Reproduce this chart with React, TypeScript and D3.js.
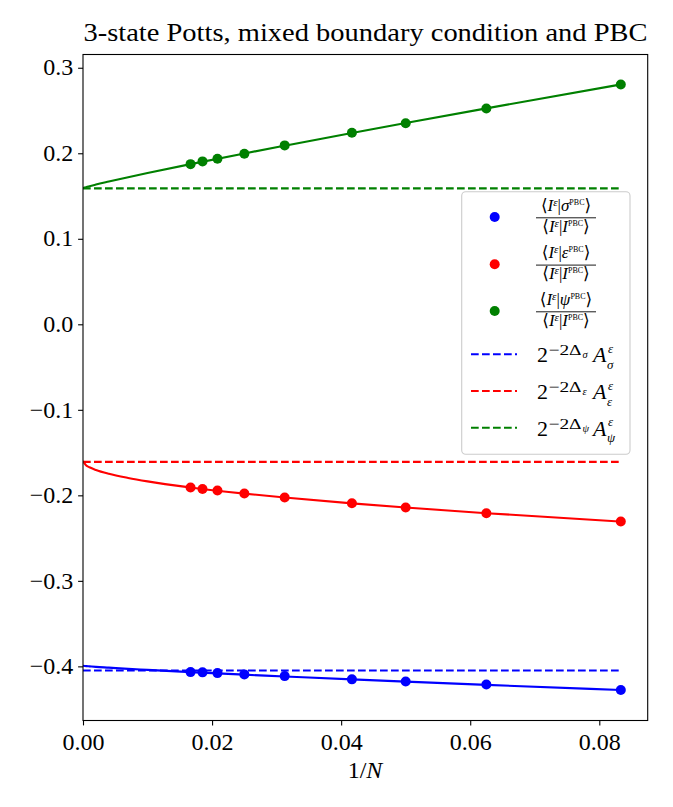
import { useEffect, useRef } from "react";
import * as d3 from "d3";

// system sizes N, plotted at 1/N
const sizes = [60, 54, 48, 40, 32, 24, 20, 16, 12];
const sigmaPts = [-0.4067, -0.407, -0.4079, -0.4094, -0.4114, -0.4152, -0.4176, -0.4211, -0.4277];
const epsPts = [-0.1908, -0.1925, -0.1944, -0.1979, -0.2025, -0.2092, -0.2142, -0.2209, -0.2306];
const psiPts = [0.1873, 0.1905, 0.1936, 0.1995, 0.2092, 0.224, 0.2352, 0.2524, 0.2805];

// fitted curves
const fitX = [0, 0.0005, 0.001, 0.002, 0.004, 0.007, 0.01, 1 / 60, 0.025, 1 / 32, 1 / 24, 0.05, 1 / 16, 1 / 12];
const sigmaFit = [-0.3993, -0.3997, -0.4, -0.4006, -0.4015, -0.4029, -0.4041, -0.4067, -0.4097, -0.4118, -0.4152, -0.4178, -0.4216, -0.4277];
const epsFit = [-0.16, -0.1651, -0.1672, -0.1703, -0.1748, -0.1797, -0.1837, -0.1908, -0.198, -0.2026, -0.2094, -0.2143, -0.2209, -0.2306];
const psiFit = [0.1593, 0.1604, 0.1615, 0.1634, 0.1669, 0.172, 0.1769, 0.1873, 0.1998, 0.2089, 0.2238, 0.2354, 0.2525, 0.2805];

// limits 2^{-2Δ} A
const sigmaLim = -0.4049;
const epsLim = -0.1609;
const psiLim = 0.1589;

const xTicks = [0, 0.02, 0.04, 0.06, 0.08];
const yTicks = [-0.4, -0.3, -0.2, -0.1, 0, 0.1, 0.2, 0.3];

const W = 673;
const H = 807;
const FONT = "'Liberation Serif', 'DejaVu Serif', serif";

function Frac({ cx, cy, sym }: { cx: number; cy: number; sym: string }) {
  const fs = 17;
  return (
    <g fontFamily={FONT}>
      <text x={cx} y={cy - 6.5} textAnchor="middle" fontSize={fs}>
        <tspan>⟨</tspan>
        <tspan fontStyle="italic">I</tspan>
        <tspan fontSize={11} fontStyle="italic" dy={-5}>ε</tspan>
        <tspan dy={5}>|</tspan>
        <tspan fontStyle="italic">{sym}</tspan>
        <tspan fontSize={8} dy={-6}>PBC</tspan>
        <tspan dy={6}>⟩</tspan>
      </text>
      <line x1={cx - 30} x2={cx + 30} y1={cy + 0.8} y2={cy + 0.8} stroke="#000" strokeWidth={0.9} />
      <text x={cx} y={cy + 14.7} textAnchor="middle" fontSize={fs}>
        <tspan>⟨</tspan>
        <tspan fontStyle="italic">I</tspan>
        <tspan fontSize={11} fontStyle="italic" dy={-5}>ε</tspan>
        <tspan dy={5}>|</tspan>
        <tspan fontStyle="italic">I</tspan>
        <tspan fontSize={8} dy={-6}>PBC</tspan>
        <tspan dy={6}>⟩</tspan>
      </text>
    </g>
  );
}

function LimLabel({ x, cy, sym }: { x: number; cy: number; sym: string }) {
  return (
    <g fontFamily={FONT}>
      <text x={x} y={cy + 8} fontSize={22}>2</text>
      <text
        x={x + 11.5}
        y={cy + 1}
        fontSize={15}
        textLength={33}
        lengthAdjust="spacingAndGlyphs"
      >
        −2Δ
      </text>
      <text x={x + 45.5} y={cy + 4} fontSize={10.5} fontStyle="italic">{sym}</text>
      <text x={x + 56} y={cy + 8} fontSize={22} fontStyle="italic">A</text>
      <text x={x + 71} y={cy - 1.5} fontSize={13} fontStyle="italic">ε</text>
      <text x={x + 70} y={cy + 14.5} fontSize={13} fontStyle="italic">{sym}</text>
    </g>
  );
}

export default function App() {
  const gRef = useRef<SVGGElement>(null);
  const margin = { top: 54.5, right: 25.3, bottom: 86.5, left: 83 };
  const innerW = W - margin.left - margin.right;
  const innerH = H - margin.top - margin.bottom;

  useEffect(() => {
    const el = gRef.current;
    if (!el) return;
    const g = d3.select(el);
    g.selectAll("*").remove();

    const x = d3.scaleLinear().domain([0, 0.0875]).range([0, innerW]);
    const y = d3.scaleLinear().domain([-0.4633, 0.3155]).range([innerH, 0]);

    const series = [
      { color: "#0000ff", pts: sigmaPts, fit: sigmaFit, lim: sigmaLim },
      { color: "#ff0000", pts: epsPts, fit: epsFit, lim: epsLim },
      { color: "#008000", pts: psiPts, fit: psiFit, lim: psiLim },
    ];

    const line = d3
      .line<[number, number]>()
      .curve(d3.curveMonotoneX)
      .x((d) => x(d[0]))
      .y((d) => y(d[1]));

    g.append("clipPath")
      .attr("id", "plotclip")
      .append("rect")
      .attr("width", innerW)
      .attr("height", innerH);
    const plot = g.append("g").attr("clip-path", "url(#plotclip)");

    series.forEach((s) => {
      plot
        .append("line")
        .attr("x1", x(0))
        .attr("x2", x(1 / 12))
        .attr("y1", y(s.lim))
        .attr("y2", y(s.lim))
        .attr("stroke", s.color)
        .attr("stroke-width", 2.1)
        .attr("stroke-dasharray", "7.7,3.3");
    });

    series.forEach((s) => {
      plot
        .append("path")
        .datum(fitX.map((v, i) => [v, s.fit[i]] as [number, number]))
        .attr("fill", "none")
        .attr("stroke", s.color)
        .attr("stroke-width", 2.1)
        .attr("d", line);
      plot
        .selectAll(null)
        .data(sizes.map((n, i) => [1 / n, s.pts[i]]))
        .join("circle")
        .attr("cx", (d) => x(d[0]))
        .attr("cy", (d) => y(d[1]))
        .attr("r", 5)
        .attr("fill", s.color);
    });

    const xAxis = g
      .append("g")
      .attr("transform", `translate(0,${innerH})`)
      .call(
        d3
          .axisBottom(x)
          .tickValues(xTicks)
          .tickFormat(d3.format(".2f"))
          .tickSize(4.9)
          .tickPadding(4.9)
      );
    const yAxis = g.append("g").call(
      d3
        .axisLeft(y)
        .tickValues(yTicks)
        .tickFormat(d3.format(".1f"))
        .tickSize(4.9)
        .tickPadding(4.9)
    );
    [xAxis, yAxis].forEach((a) => {
      a.select(".domain").remove();
      a.selectAll("line").attr("stroke", "#000").attr("stroke-width", 1.1);
      a.selectAll("text")
        .attr("font-family", FONT)
        .attr("font-size", 24)
        .attr("fill", "#000");
    });
    xAxis.selectAll("text").attr("dy", "0.82em");
    yAxis.selectAll("text").attr("dy", "0.3em");

    g.append("rect")
      .attr("width", innerW)
      .attr("height", innerH)
      .attr("fill", "none")
      .attr("stroke", "#000")
      .attr("stroke-width", 1.1);
  }, []);

  const legX = 461.7;
  const legY = 191.7;
  const rows = [217, 264.3, 311];
  const limRows = [354.3, 391, 427.7];
  const cols = ["#0000ff", "#ff0000", "#008000"];
  const syms = ["σ", "ε", "ψ"];

  return (
    <svg
      width={W}
      height={H}
      style={{ position: "absolute", left: 0, top: 0, background: "#fff" }}
    >
      <g ref={gRef} transform={`translate(${margin.left},${margin.top})`} />
      <text
        x={83.5}
        y={41}
        fontFamily={FONT}
        fontSize={25}
        textLength={564}
        lengthAdjust="spacingAndGlyphs"
      >
        3-state Potts, mixed boundary condition and PBC
      </text>
      <text x={365} y={778} textAnchor="middle" fontFamily={FONT} fontSize={24}>
        1/<tspan fontStyle="italic">N</tspan>
      </text>
      <rect
        x={legX}
        y={legY}
        width={168.3}
        height={262.6}
        rx={4}
        fill="#fff"
        fillOpacity={0.8}
        stroke="#cccccc"
        strokeWidth={1.1}
      />
      {rows.map((ry, i) => (
        <g key={"m" + i}>
          <circle cx={494.7} cy={ry} r={5} fill={cols[i]} />
          <Frac cx={566} cy={ry} sym={syms[i]} />
        </g>
      ))}
      {limRows.map((ry, i) => (
        <g key={"l" + i}>
          <line
            x1={471}
            x2={517}
            y1={ry}
            y2={ry}
            stroke={cols[i]}
            strokeWidth={2.1}
            strokeDasharray="7.7,3.3"
          />
          <LimLabel x={537} cy={ry} sym={syms[i]} />
        </g>
      ))}
    </svg>
  );
}
